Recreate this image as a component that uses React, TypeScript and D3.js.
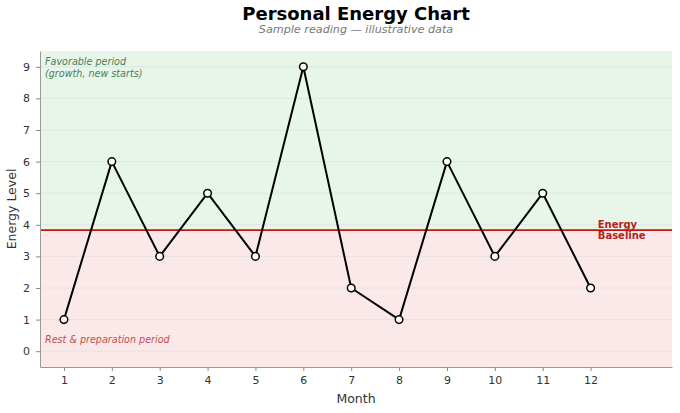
import { useRef, useEffect } from 'react';
import * as d3 from 'd3';

const months = [1, 2, 3, 4, 5, 6, 7, 8, 9, 10, 11, 12];
const energy = [1, 6, 3, 5, 3, 9, 2, 1, 6, 3, 5, 2];
const baseline = 3.83;
const yTicks = [0, 1, 2, 3, 4, 5, 6, 7, 8, 9];

const W = 680;
const H = 413;
const margin = { top: 51, right: 8, bottom: 46, left: 40 };
const font = "'DejaVu Sans', sans-serif";

const App = () => {
    const svgRef = useRef<SVGSVGElement | null>(null);

    useEffect(() => {
        if (!svgRef.current) return;
        const svg = d3.select(svgRef.current);
        svg.selectAll('*').remove();

        const x = d3.scaleLinear().domain([0.5, 13.7]).range([margin.left, W - margin.right]);
        const y = d3.scaleLinear().domain([-0.5, 9.5]).range([H - margin.bottom, margin.top]);
        const [x0, x1] = x.range();
        const [yb, yt] = y.range();
        const cx = (x0 + x1) / 2;

        // shaded zones
        svg.append('rect')
            .attr('x', x0).attr('y', yt)
            .attr('width', x1 - x0).attr('height', y(baseline) - yt)
            .attr('fill', '#e8f5e9');
        svg.append('rect')
            .attr('x', x0).attr('y', y(baseline))
            .attr('width', x1 - x0).attr('height', yb - y(baseline))
            .attr('fill', '#fbe9e9');

        // grid
        svg.append('g')
            .selectAll('line')
            .data(yTicks)
            .join('line')
            .attr('x1', x0).attr('x2', x1)
            .attr('y1', d => y(d)).attr('y2', d => y(d))
            .attr('stroke', '#d8d8d8')
            .attr('stroke-opacity', 0.6)
            .attr('stroke-width', 0.8);

        // baseline
        svg.append('line')
            .attr('x1', x0).attr('x2', x1)
            .attr('y1', y(baseline)).attr('y2', y(baseline))
            .attr('stroke', '#cc1111')
            .attr('stroke-width', 1.8);

        svg.append('text')
            .attr('x', x(12.15)).attr('y', y(baseline) - 2)
            .attr('font-family', font).attr('font-size', 10).attr('font-weight', 'bold')
            .attr('fill', '#b22222')
            .selectAll('tspan')
            .data(['Energy', 'Baseline'])
            .join('tspan')
            .attr('x', x(12.15))
            .attr('dy', (_d, i) => (i === 0 ? 0 : 11))
            .text(d => d);

        // zone labels
        svg.append('text')
            .attr('font-family', font).attr('font-size', 9.6).attr('font-style', 'italic')
            .attr('fill', '#4a805a')
            .selectAll('tspan')
            .data(['Favorable period', '(growth, new starts)'])
            .join('tspan')
            .attr('x', x0 + 5)
            .attr('y', (_d, i) => yt + 14 + i * 11.5)
            .text(d => d);

        svg.append('text')
            .attr('x', x0 + 5).attr('y', y(0.35) + 3)
            .attr('font-family', font).attr('font-size', 9.6).attr('font-style', 'italic')
            .attr('fill', '#c0504d')
            .text('Rest & preparation period');

        // axes
        const xAxis = svg.append('g')
            .attr('transform', `translate(0,${yb})`)
            .call(d3.axisBottom(x).tickValues(months).tickFormat(d3.format('d')).tickSize(4).tickPadding(5).tickSizeOuter(0));
        const yAxis = svg.append('g')
            .attr('transform', `translate(${x0},0)`)
            .call(d3.axisLeft(y).tickValues(yTicks).tickFormat(d3.format('d')).tickSize(4).tickPadding(6).tickSizeOuter(0));
        [xAxis, yAxis].forEach(a => {
            a.select('.domain').attr('stroke', '#999');
            a.selectAll('.tick line').attr('stroke', '#888');
            a.selectAll('.tick text').attr('fill', '#333').attr('font-size', 11).attr('font-family', font);
        });

        svg.append('text')
            .attr('x', cx).attr('y', 403)
            .attr('text-anchor', 'middle')
            .attr('font-family', font).attr('font-size', 12.5).attr('fill', '#333')
            .text('Month');
        svg.append('text')
            .attr('transform', `translate(16,${(yt + yb) / 2}) rotate(-90)`)
            .attr('text-anchor', 'middle')
            .attr('font-family', font).attr('font-size', 12.5).attr('fill', '#333')
            .text('Energy Level');

        // line + markers
        svg.append('path')
            .datum(energy)
            .attr('fill', 'none')
            .attr('stroke', '#000')
            .attr('stroke-width', 2)
            .attr('stroke-linejoin', 'round')
            .attr('d', d3.line<number>().x((_d, i) => x(months[i])).y(d => y(d)));

        svg.append('g')
            .selectAll('circle')
            .data(energy)
            .join('circle')
            .attr('cx', (_d, i) => x(months[i]))
            .attr('cy', d => y(d))
            .attr('r', 3.8)
            .attr('fill', '#fff')
            .attr('stroke', '#000')
            .attr('stroke-width', 1.5);

        // titles
        svg.append('text')
            .attr('x', cx).attr('y', 20)
            .attr('text-anchor', 'middle')
            .attr('font-family', font).attr('font-size', 18).attr('font-weight', 'bold')
            .attr('fill', '#000')
            .text('Personal Energy Chart');
        svg.append('text')
            .attr('x', cx).attr('y', 32.5)
            .attr('text-anchor', 'middle')
            .attr('font-family', font).attr('font-size', 11.2).attr('font-style', 'italic')
            .attr('fill', '#777')
            .text('Sample reading — illustrative data');
    }, []);

    return (
        <svg ref={svgRef} width={W} height={H}
            style={{ position: 'absolute', left: 0, top: 0, background: '#fff' }} />
    );
};

export default App;
